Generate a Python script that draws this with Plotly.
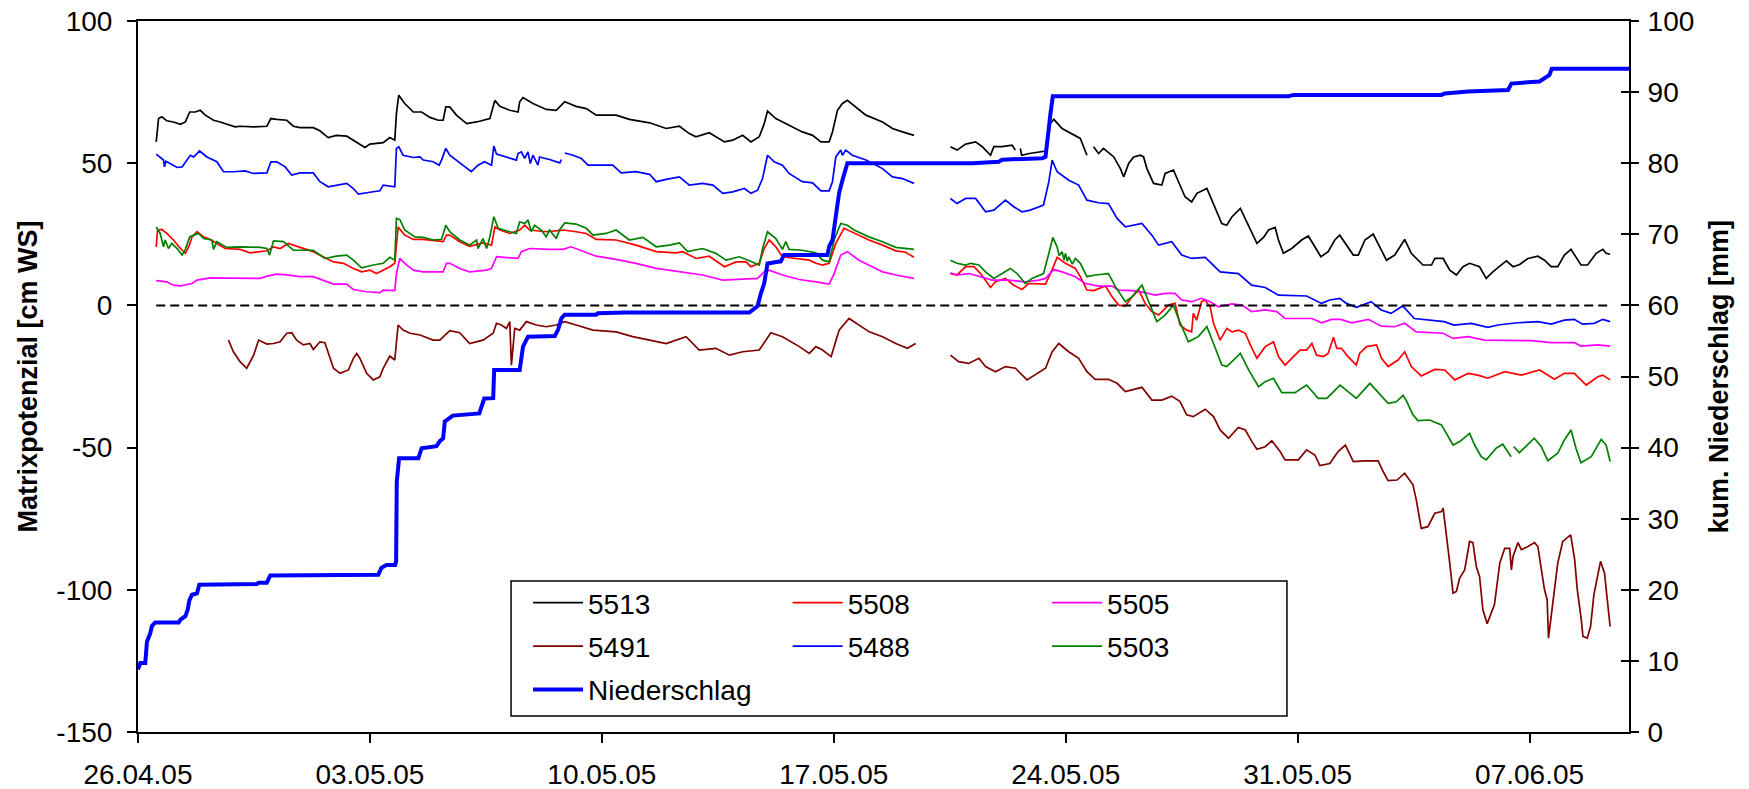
import plotly.graph_objects as go
from datetime import datetime, timedelta

BASE = datetime(2005, 4, 26)
FONT = "Liberation Sans, Arial, sans-serif"

# ---------------- data (day offset from 26.04.05, value) ----------------
s5513_day = [0.55, 0.62, 0.72, 0.87, 1.07, 1.28, 1.43, 1.56, 1.73, 1.88, 2.03, 2.28, 2.48, 2.73, 2.93, 3.08, 3.49, 3.89,
             4.01, 4.19, 4.49, 4.69, 4.89, 5.29, 5.49, 5.74, 5.99, 6.30, 6.50, 6.70, 6.85, 7.00, 7.40, 7.60, 7.75, 7.80,
             7.87, 8.05, 8.31, 8.56, 8.81, 9.06, 9.21, 9.29, 9.41, 9.61, 9.92, 10.22, 10.62, 10.77, 10.92, 11.22, 11.47,
             11.52, 11.62, 11.92, 12.32, 12.62, 12.88, 13.22, 13.53, 13.83, 14.43, 14.83, 15.44, 15.94, 16.34, 16.64,
             16.84, 17.24, 17.44, 17.70, 17.95, 18.25, 18.50, 18.75, 18.90, 19.00, 19.25, 19.65, 20.05, 20.36, 20.61,
             20.86, 20.96, 21.11, 21.26, 21.41, 21.66, 21.97, 22.47, 22.77, 23.07, 23.42, None,
             24.52, 24.72, 24.98, 25.28, 25.48, 25.73, 25.83, 26.08, 26.38, 26.48, None, 26.63, 26.67, 26.90, 27.19,
             27.39, 27.49, 27.64, 27.89, 28.19, 28.44, 28.64, None, 28.84, 28.99, 29.14, 29.34, 29.45, 29.65, 29.75,
             29.90, 30.05, 30.25, 30.35, 30.45, 30.65, 30.90, 31.00, 31.25, 31.40, 31.60, 31.80, 31.96, 32.26, 32.46,
             32.71, 32.86, 33.02, 33.27, 33.47, 33.77, 33.97, 34.12, 34.32, 34.42, 34.57, 34.82, 35.12, 35.32, 35.52,
             35.70, 35.92, 36.12, 36.27, 36.52, 36.68, 36.83, 37.03, 37.28, 37.48, 37.68, 37.93, 38.23, 38.43, 38.78,
             39.04, 39.14, 39.39, 39.59, 39.79, 39.99, 40.19, 40.49, 40.69, 40.89, 41.10, 41.30, 41.50, 41.70, 41.95,
             42.25, 42.45, 42.65, 42.85, 43.05, 43.25, 43.40, 43.55, 43.75, 44.01, 44.21, 44.31, 44.43]
s5513_val = [57.5, 65.7, 66.3, 64.9, 64.5, 63.7, 64.5, 68.0, 68.0, 68.6, 66.9, 65.1, 64.5, 63.4, 62.8, 63.0, 62.8, 63.0,
             65.7, 65.4, 65.1, 63.0, 62.5, 62.5, 61.4, 59.0, 59.8, 59.5, 58.1, 56.7, 55.5, 56.7, 57.2, 59.0, 58.1, 67.5,
             73.9, 71.0, 68.0, 68.0, 66.1, 65.1, 65.1, 69.8, 69.8, 66.9, 63.9, 64.5, 65.7, 72.1, 70.0, 68.6, 68.0,
             71.6, 73.1, 71.0, 68.9, 68.6, 71.6, 70.0, 69.2, 66.9, 66.9, 65.4, 64.2, 62.2, 63.0, 60.4,
             59.3, 60.7, 59.3, 57.5, 58.1, 59.8, 57.5, 59.3, 63.9, 68.3, 65.7, 63.4, 61.0, 59.8, 57.5,
             57.5, 61.0, 68.6, 71.0, 72.1, 69.8, 66.9, 64.5, 62.2, 61.0, 59.8, None,
             55.8, 54.6, 56.7, 57.5, 55.8, 52.8, 55.8, 55.8, 56.3, 54.6, None, 55.2, 52.8, 53.4, 54.0,
             54.3, 63.4, 65.4, 62.2, 60.4, 58.7, 52.8, None, 55.8, 53.4, 55.2, 53.4, 52.2, 48.1, 45.2,
             49.9, 52.2, 52.8, 52.2, 48.1, 42.9, 42.3, 46.4, 47.6, 43.5, 38.2, 36.4, 39.4, 41.1, 35.8,
             28.8, 28.2, 31.2, 34.1, 29.4, 21.8, 23.9, 26.5, 27.4, 23.0, 18.3, 20.0, 23.0, 24.4, 20.6,
             17.1, 18.9, 23.0, 24.7, 20.6, 17.7, 17.7, 23.0, 25.1, 20.6, 15.9, 17.7, 23.2, 18.3, 14.2,
             14.2, 16.5, 16.5, 12.4, 10.7, 13.6, 14.8, 13.6, 9.5, 11.8, 13.8, 15.7, 13.6, 14.4, 16.5,
             17.3, 15.9, 13.6, 13.6, 17.7, 19.7, 17.1, 14.2, 14.2, 18.3, 19.7, 18.3, 18.0]

s5508_day = [0.55, 0.59, 0.72, 0.87, 1.07, 1.28, 1.43, 1.55, 1.63, 1.78, 1.98, 2.18, 2.38, 2.63, 3.08, 3.38, 3.89, 4.09,
             4.29, 4.54, 4.89, 5.29, 5.59, 5.90, 6.20, 6.50, 6.75, 7.00, 7.20, 7.40, 7.60, 7.75, 7.85, 8.05, 8.31, 8.61,
             8.91, 9.21, 9.31, 9.41, 9.71, 10.01, 10.41, 10.67, 10.77, 10.92, 11.22, 11.52, 11.67, 11.82, 12.32, 12.83,
             13.22, 13.53, 13.83, 14.43, 15.03, 15.64, 16.24, 16.44, 16.84, 17.24, 17.70, 18.05, 18.35, 18.50, 18.75,
             18.90, 19.05, 19.25, 19.45, 19.85, 20.26, 20.46, 20.66, 20.86, 21.06, 21.31, 21.66, 22.06, 22.47, 22.87,
             23.17, 23.42, None,
             24.52, 24.72, 24.98, 25.23, 25.43, 25.73, 25.88, 26.18, 26.43, 26.68, 26.88, 27.39, 27.59, 27.74, 27.99,
             28.29, 28.44, 28.64, 28.84, 29.20, 29.40, 29.60, 29.80, 30.00, 30.20, 30.40, 30.60, 30.80, 31.10, 31.30,
             31.45, 31.65, 31.80, 31.85, 31.95, 32.10, 32.20, 32.36, 32.46, 32.66, 32.86, 33.02, 33.22, 33.42, 33.57,
             33.77, 34.02, 34.27, 34.42, 34.62, 34.82, 35.07, 35.27, 35.43, 35.57, 35.77, 35.92, 36.08, 36.18, 36.32,
             36.52, 36.77, 36.87, 37.08, 37.38, 37.53, 37.73, 38.03, 38.23, 38.43, 38.73, 39.14, 39.44, 39.74, 40.14,
             40.44, 40.74, 41.25, 41.75, 42.30, 42.75, 43.05, 43.35, 43.71, 44.06, 44.21, 44.43]
s5508_val = [20.6, 26.5, 26.7, 25.3, 23.0, 20.0, 18.3, 21.2, 24.1, 25.9, 24.1, 23.2, 21.8, 20.0, 19.7, 18.5, 19.2, 20.6,
             20.0, 21.8, 20.4, 18.9, 17.1, 15.3, 14.8, 13.0, 11.8, 12.4, 11.2, 12.4, 13.6, 14.8, 27.6, 24.7, 23.2, 23.2,
             22.7, 22.4, 24.7, 24.7, 22.4, 20.8, 22.0, 21.2, 27.6, 26.5, 25.3, 26.5, 28.2, 26.5, 25.9, 26.5,
             25.9, 25.3, 23.2, 23.0, 21.2, 18.9, 18.5, 18.9, 16.5, 17.3, 13.6, 15.3, 15.3, 13.6, 14.8,
             20.0, 23.0, 20.6, 17.1, 16.5, 15.9, 14.8, 14.2, 14.8, 21.8, 27.1, 25.3, 23.0, 21.2, 19.2,
             18.7, 16.9, None,
             11.2, 10.7, 13.6, 13.6, 11.2, 6.3, 8.3, 9.5, 7.1, 5.6, 7.7, 7.5, 12.6, 16.9, 14.8,
             13.0, 10.1, 5.4, 5.2, 6.8, 3.0, 0.1, -0.2, 3.0, 5.4, 0.7, -2.2, -3.4, 0.1, 0.7,
             -6.9, -8.7, -9.3, -2.8, -5.2, 1.3, 1.9, -0.5, -6.3, -12.2, -8.1, -9.3, -8.7, -9.8, -13.9,
             -18.6, -14.5, -12.8, -18.0, -21.0, -18.6, -15.7, -15.7, -13.4, -17.5, -18.0, -16.9, -11.2, -15.1, -15.1,
             -18.0, -21.0, -16.9, -14.5, -13.9, -18.6, -21.5, -19.2, -16.3, -21.5, -24.8, -22.5, -22.7, -26.2, -23.9,
             -24.5, -25.6, -23.3, -24.5, -22.7, -26.0, -23.9, -23.9, -28.0, -25.1, -24.5, -26.2]

s5505_day = [0.55, 0.87, 1.07, 1.28, 1.63, 1.78, 2.18, 2.88, 3.69, 3.89, 4.19, 4.49, 4.89, 5.29, 5.59, 5.90, 6.30, 6.50,
             6.90, 7.30, 7.40, 7.75, 7.80, 7.90, 8.05, 8.31, 8.61, 9.21, 9.31, 9.41, 9.71, 10.01, 10.52, 10.67, 10.82,
             11.47, 11.57, 11.82, 12.42, 12.83, 13.07, 13.42, 13.83, 14.43, 15.03, 15.64, 16.44, 17.04, 17.65, 18.25,
             18.70, 18.90, 19.05, 19.45, 19.96, 20.46, 20.86, 21.01, 21.21, 21.41, 21.76, 22.16, 22.47, 22.87, 23.42,
             None,
             24.52, 24.72, 25.08, 25.48, 25.78, 26.28, 26.78, 27.19, 27.39, 27.64, 27.89, 28.29, 28.59, 28.99, 29.40,
             29.60, 30.00, 30.40, 30.70, 31.00, 31.30, 31.50, 31.80, 32.10, 32.36, 32.61, 33.02, 33.32, 33.61, 34.02,
             34.37, 34.62, 35.12, 35.43, 35.72, 36.02, 36.30, 36.63, 37.13, 37.53, 37.93, 38.23, 38.58, 39.02, 39.39,
             39.69, 40.14, 40.64, 41.55, 42.05, 42.65, 43.35, 43.55, 44.06, 44.43]
s5505_val = [8.7, 8.3, 7.1, 6.9, 7.7, 8.9, 9.7, 9.5, 9.5, 10.3, 11.0, 10.7, 10.1, 10.1, 8.7, 7.5, 7.5, 5.6,
             4.8, 4.5, 5.4, 5.2, 11.2, 16.5, 14.8, 12.4, 11.8, 11.8, 14.8, 14.8, 13.0, 11.8, 12.4, 13.0, 17.1,
             16.5, 18.9, 20.0, 19.7, 19.7, 20.6, 19.2, 17.3, 16.2, 14.8, 13.0, 11.8, 10.7, 8.9, 9.1,
             9.5, 11.8, 12.4, 10.7, 9.1, 8.3, 7.5, 11.2, 17.7, 18.9, 15.9, 13.6, 11.8, 10.7, 9.5,
             None,
             11.5, 10.7, 11.2, 9.8, 8.9, 8.9, 8.3, 8.9, 9.5, 12.6, 11.8, 10.1, 7.7, 6.8, 6.8,
             5.4, 5.2, 4.5, 3.6, 4.2, 4.2, 1.9, 1.3, 2.5, 1.3, -0.5, 0.5, 0.1, -2.2, -1.6,
             -2.2, -4.6, -4.6, -4.6, -6.1, -4.9, -4.9, -6.1, -4.9, -7.3, -7.5, -6.3, -9.3, -9.6, -9.8,
             -11.6, -11.0, -12.2, -12.2, -12.4, -13.1, -13.1, -14.3, -13.9, -14.3]

s5491_day = [2.73, 2.88, 3.08, 3.28, 3.49, 3.64, 3.89, 4.09, 4.29, 4.49, 4.64, 4.79, 4.99, 5.19, 5.29, 5.49, 5.64, 5.74,
             5.90, 6.10, 6.35, 6.50, 6.60, 6.70, 6.90, 7.10, 7.30, 7.40, 7.55, 7.60, 7.75, 7.85, 8.00, 8.21, 8.51, 8.91,
             9.11, 9.31, 9.41, 9.71, 10.01, 10.41, 10.72, 10.82, 10.97, 11.12, 11.22, 11.27, 11.37, 11.52, 11.72, 12.02,
             12.32, 12.62, 12.88, 13.22, 13.73, 14.43, 14.93, 15.44, 15.94, 16.54, 16.94, 17.44, 17.85, 18.25, 18.75,
             19.10, 19.45, 19.96, 20.26, 20.46, 20.66, 20.92, 21.16, 21.46, 21.76, 22.07, 22.47, 22.87, 23.22, 23.47,
             None,
             24.52, 24.77, 25.07, 25.38, 25.58, 25.88, 26.18, 26.48, 26.83, 27.08, 27.39, 27.59, 27.79, 28.09, 28.39,
             28.64, 28.89, 29.29, 29.55, 29.80, 30.30, 30.60, 30.90, 31.20, 31.45, 31.65, 31.85, 32.21, 32.46, 32.66,
             32.91, 33.21, 33.42, 33.62, 33.77, 34.02, 34.22, 34.47, 34.62, 35.02, 35.27, 35.52, 35.67, 35.97, 36.22,
             36.44, 36.68, 37.03, 37.43, 37.58, 37.73, 38.00, 38.23, 38.48, 38.58, 38.73, 38.93, 39.14, 39.34, 39.39,
             39.49, 39.59, 39.69, 39.79, 39.89, 40.04, 40.19, 40.29, 40.39, 40.49, 40.59, 40.72, 40.94, 41.10, 41.25,
             41.40, 41.45, 41.50, 41.65, 41.75, 41.95, 42.15, 42.25, 42.35, 42.45, 42.53, 42.57, 42.70, 42.85, 43.00,
             43.24, 43.36, 43.44, 43.56, 43.61, 43.74, 43.84, 43.94, 44.04, 44.14, 44.26, 44.34, 44.43]
s5491_val = [-12.2, -16.3, -19.8, -22.1, -17.5, -12.2, -13.6, -13.4, -12.8, -9.8, -9.6, -12.2, -13.9, -13.4, -15.5, -12.8,
             -13.1, -16.9, -22.1, -23.9, -22.7, -18.6, -16.9, -18.6, -23.9, -26.2, -25.1, -22.1, -19.2, -17.8, -19.2,
             -6.9, -8.7, -9.8, -10.4, -12.2, -12.2, -9.8, -8.9, -9.6, -13.4, -12.2, -9.8, -6.3, -6.9, -8.1, -5.7, -21.0,
             -8.1, -8.7, -5.7, -6.9, -7.5, -6.9, -5.7, -6.9, -8.7, -9.3, -11.0, -12.2, -13.4, -11.0, -15.7, -15.1,
             -17.5, -16.3, -15.7, -9.6, -11.0, -14.5, -16.9, -14.5, -15.7, -18.0, -8.7, -4.6, -6.9, -9.3, -11.0,
             -13.4, -15.1, -13.4,
             None,
             -17.5, -19.8, -20.4, -18.6, -21.5, -23.3, -21.5, -22.1, -26.2, -24.5, -22.1, -16.3, -13.4, -16.3, -18.6,
             -23.3, -26.0, -26.0, -27.4, -30.3, -28.8, -33.3, -33.3, -31.9, -33.8, -38.5, -39.1, -36.5, -39.1, -43.8,
             -46.7, -42.9, -43.8, -47.9, -50.6, -49.7, -47.6, -51.4, -54.3, -54.3, -50.8, -52.6, -56.3, -55.6, -51.4,
             -49.1, -54.9, -54.7, -54.7, -58.4, -61.6, -61.4, -59.0, -63.1, -68.4, -78.4, -77.8, -73.1, -72.5, -71.3,
             -80.1, -90.6, -101.2, -100.6, -95.9, -93.0, -83.0, -83.4, -91.8, -95.3, -107.0, -111.9, -105.2, -90.6,
             -85.4, -85.4, -93.0, -88.3, -83.4, -85.9, -84.8, -83.4, -84.8, -93.0, -100.0, -103.5, -117.0, -104.7,
             -90.6, -83.0, -80.7, -89.4, -100.0, -110.5, -116.4, -117.0, -112.9, -101.8, -95.9, -90.0, -94.1, -102.4,
             -112.9]

s5488_day = [0.55, 0.67, 0.77, 0.80, 0.84, 0.97, 1.18, 1.33, 1.48, 1.58, 1.68, 1.86, 2.08, 2.38, 2.58, 2.88, 3.23, 3.49,
             3.89, 4.01, 4.19, 4.44, 4.64, 4.89, 5.29, 5.49, 5.74, 6.30, 6.50, 6.65, 6.90, 7.30, 7.40, 7.75, 7.80, 7.87,
             8.00, 8.31, 8.51, 8.61, 8.91, 9.09, 9.16, 9.29, 9.41, 9.61, 9.86, 10.06, 10.26, 10.46, 10.67, 10.74, 10.82,
             11.12, 11.42, 11.47, 11.57, 11.67, 11.77, 11.84, 11.92, 12.07, 12.12, 12.42, 12.73, 12.78, None, 12.88,
             13.13, 13.38, 13.58, 13.83, 14.33, 14.58, 15.03, 15.44, 15.64, 15.94, 16.34, 16.64, 17.04, 17.35, 17.65,
             17.95, 18.30, 18.50, 18.70, 18.85, 19.00, 19.20, 19.45, 19.65, 20.05, 20.36, 20.61, 20.86, 20.96, 21.06,
             21.21, 21.26, 21.36, 21.56, 21.97, 22.47, 22.77, 23.07, 23.42, None,
             24.52, 24.72, 24.98, 25.28, 25.43, 25.58, 25.83, 26.18, 26.43, 26.68, 26.93, 27.33, 27.49, 27.59, 27.74,
             28.09, 28.39, 28.64, 28.99, 29.29, 29.55, 29.80, 30.30, 30.60, 30.80, 31.20, 31.50, 31.80, 32.21, 32.66,
             33.21, 33.61, 34.02, 34.42, 35.27, 35.72, 35.97, 36.27, 36.47, 36.77, 37.22, 37.52, 37.82, 38.17, 38.52,
             39.02, 39.42, 39.72, 40.24, 40.74, 41.04, 41.64, 42.25, 42.65, 43.05, 43.35, 43.60, 43.95, 44.21, 44.43]
s5488_val = [53.2, 52.2, 51.1, 48.7, 50.7, 49.9, 48.5, 48.7, 51.1, 52.8, 52.2, 54.3, 52.2, 50.5, 47.0, 47.0, 47.3, 46.4,
             46.6, 50.5, 50.5, 48.7, 45.8, 46.6, 46.6, 43.5, 41.7, 42.9, 41.1, 39.1, 39.6, 40.3, 42.3, 41.7, 55.2, 55.8,
             52.8, 52.0, 52.2, 51.1, 50.5, 49.3, 51.1, 55.2, 52.8, 51.1, 48.7, 47.0, 49.3, 50.5, 49.3, 56.0, 53.2,
             52.2, 51.1, 53.4, 54.0, 51.7, 54.0, 49.9, 52.8, 49.3, 52.2, 51.3, 50.1, 51.3, None, 53.6,
             52.8, 51.7, 49.3, 49.3, 49.3, 46.6, 47.0, 46.1, 43.5, 44.3, 45.2, 42.3, 42.9, 42.3, 39.4,
             39.9, 41.1, 39.4, 40.5, 44.6, 52.8, 50.5, 49.3, 46.4, 43.5, 43.1, 40.3, 40.3, 43.5, 52.2,
             54.6, 52.8, 54.6, 52.8, 51.1, 48.1, 45.2, 44.6, 42.9, None,
             37.6, 35.8, 37.6, 37.6, 35.3, 32.9, 33.5, 37.0, 34.7, 32.9, 33.5, 35.3, 43.5, 51.1, 47.0,
             44.0, 42.3, 37.0, 36.1, 35.8, 30.6, 27.6, 28.8, 24.7, 21.2, 22.4, 17.7, 16.5, 16.9, 11.8,
             11.2, 7.1, 6.3, 3.6, 3.3, 0.7, 1.9, 2.5, 0.7, -0.7, 1.3, -1.6, -2.8, -0.2, -4.6,
             -5.2, -5.7, -6.9, -6.3, -7.7, -6.9, -6.1, -5.7, -6.6, -5.2, -4.9, -6.6, -6.3, -4.9, -5.7]

s5503_day = [0.55, 0.67, 0.77, 0.82, 0.92, 1.02, 1.18, 1.33, 1.43, 1.56, 1.68, 1.83, 1.98, 2.23, 2.28, 2.38, 2.68, 3.08,
             3.69, 3.89, 3.97, 4.09, 4.39, 4.69, 5.29, 5.64, 5.99, 6.30, 6.50, 6.75, 7.10, 7.40, 7.60, 7.75, 7.80, 7.90,
             8.05, 8.36, 8.61, 8.91, 9.16, 9.29, 9.41, 9.71, 10.01, 10.22, 10.26, 10.41, 10.52, 10.62, 10.74, 10.87,
             11.22, 11.42, 11.52, 11.67, 11.77, 11.87, 11.97, 12.17, 12.32, 12.42, 12.62, 12.73, 12.88, 13.22, 13.53,
             13.73, 14.13, 14.43, 14.83, 15.24, 15.64, 16.04, 16.34, 16.59, 17.04, 17.44, 17.75, 18.15, 18.45, 18.75,
             18.85, 19.00, 19.25, 19.45, 19.55, 19.65, 20.05, 20.46, 20.66, 20.86, 21.01, 21.21, 21.41, 21.61, 22.06,
             22.47, 22.87, 23.42, None,
             24.52, 24.72, 24.98, 25.13, 25.38, 25.58, 25.83, 26.08, 26.33, 26.53, 26.78, 26.98, 27.33, 27.49, 27.61,
             27.74, 27.80, 27.89, 27.95, 27.99, 28.05, 28.09, 28.20, 28.29, 28.44, 28.64, 28.89, 29.29, 29.50, 29.80,
             30.00, 30.30, 30.50, 30.75, 31.00, 31.25, 31.40, 31.70, 32.00, 32.26, 32.46, 32.71, 32.86, 33.02, 33.27,
             33.52, 33.82, 34.02, 34.27, 34.52, 34.92, 35.27, 35.62, 35.88, 36.28, 36.52, 36.77, 37.18, 37.53, 37.73,
             37.98, 38.18, 38.28, 38.48, 38.63, 38.98, 39.34, 39.49, 39.69, 39.89, 40.19, 40.34, 40.54, 40.69, 40.99,
             41.19, 41.34, 41.44, None, 41.52, 41.69, 41.89, 42.14, 42.35, 42.55, 42.85, 43.05, 43.25, 43.40, 43.55,
             43.86, 44.16, 44.31, 44.43]
s5503_val = [27.6, 25.3, 20.6, 23.0, 20.0, 21.8, 20.0, 17.7, 19.7, 24.1, 24.7, 25.3, 23.5, 23.0, 19.7, 22.4, 20.4, 20.6,
             20.4, 20.0, 17.7, 22.7, 22.4, 19.4, 19.4, 16.5, 17.3, 17.7, 15.9, 13.2, 14.2, 14.8, 16.9, 15.9, 30.6, 30.2,
             26.5, 24.1, 23.9, 23.0, 23.2, 28.2, 25.9, 23.0, 21.2, 23.0, 20.0, 23.5, 20.0, 24.1, 31.2, 27.1,
             25.9, 25.3, 29.4, 28.8, 30.0, 25.9, 28.2, 26.5, 24.1, 26.5, 23.5, 26.7, 29.0, 28.6, 27.1,
             24.7, 25.3, 26.5, 23.0, 23.9, 20.6, 21.2, 22.0, 18.9, 20.0, 18.3, 15.9, 17.1, 15.7, 14.2,
             20.0, 25.9, 23.5, 19.7, 22.4, 19.7, 19.4, 18.5, 15.9, 15.3, 23.0, 28.8, 28.2, 26.5, 24.1,
             22.4, 20.4, 19.7, None,
             15.9, 14.8, 14.2, 14.8, 14.2, 11.8, 9.5, 11.2, 13.0, 11.2, 7.7, 9.5, 11.2, 18.3, 23.9,
             20.6, 17.5, 18.9, 15.9, 18.3, 15.5, 17.1, 14.5, 16.5, 14.8, 10.1, 10.7, 11.2, 6.6, 1.3,
             3.0, 7.1, 1.3, -5.7, -3.4, 0.1, -4.6, -12.8, -11.0, -7.5, -13.4, -21.0, -21.5, -19.8, -16.9,
             -22.7, -28.6, -26.8, -25.6, -30.7, -30.7, -28.0, -32.7, -32.7, -28.0, -30.3, -32.7, -27.4, -32.1, -34.4,
             -33.9, -31.6, -33.5, -38.5, -40.5, -40.3, -42.0, -45.0, -49.1, -47.9, -45.0, -49.1, -53.2, -54.3, -50.2,
             -48.8, -51.4, -53.2, None, -49.6, -51.8, -49.6, -46.7, -49.6, -54.6, -52.0, -47.3, -43.8, -50.2, -55.3,
             -53.2, -47.1, -49.1, -54.9]

zero_day = [0.55, 44.43]
zero_val = [0, 0]

rain_day = [0.00, 0.07, 0.22, 0.24, 0.27, 0.37, 0.42, 0.52, 1.23, 1.28, 1.43, 1.50, 1.55, 1.63, 1.78, 1.85, 3.59, 3.64,
            3.89, 3.99, 7.00, 7.25, 7.35, 7.50, 7.76, 7.79, 7.81, 7.88, 8.46, 8.56, 9.01, 9.11, 9.21, 9.23, 9.26, 9.36,
            9.50, 10.30, 10.45, 10.72, 10.75, 11.52, 11.57, 11.62, 11.77, 12.58, 12.68, 12.78, 12.88, 13.83, 13.88,
            14.73, 18.45, 18.55, 18.70, 18.80, 18.90, 19.00, 19.40, 19.50, 20.81, 20.86, 20.96, 21.06, 21.16, 21.26,
            21.36, 21.41, 25.18, 25.98, 26.08, 27.29, 27.39, 27.42, 27.47, 27.54, 27.61, 34.72, 34.87, 39.34, 39.44,
            40.14, 41.35, 41.45, 42.30, 42.45, 42.60, 42.67, 45.00]
rain_mm = [8.8, 9.7, 9.7, 11.1, 12.7, 13.9, 14.9, 15.4, 15.4, 15.8, 16.3, 17.2, 18.5, 19.3, 19.5, 20.7, 20.8, 21.0,
           21.0, 22.0, 22.0, 22.1, 23.1, 23.5, 23.5, 24.0, 35.2, 38.5, 38.5, 39.9, 40.2, 40.9, 41.3, 42.5, 43.7, 44.0,
           44.5, 44.8, 46.9, 46.95, 50.9, 50.9, 52.3, 54.2, 55.6, 55.7, 56.6, 58.2, 58.7, 58.7, 58.9,
           59.0, 59.0, 59.4, 59.9, 61.7, 63.1, 65.9, 66.2, 67.1, 67.1, 68.3, 69.2, 72.5, 75.8, 77.6,
           79.1, 80.0, 80.0, 80.2, 80.5, 80.7, 80.9, 82.3, 84.7, 87.0, 89.4, 89.4, 89.6, 89.6, 89.8,
           90.1, 90.3, 91.2, 91.5, 92.0, 92.4, 93.3, 93.3]

x_tick_step_days = 7
left_range = [-150, 100]
left_ticks = [-150, -100, -50, 0, 50, 100]
left_ticktext = ["-150", "-100", "-50", "0", "50", "100"]
right_range = [0, 100]


def to_dates(days):
    return [BASE + timedelta(days=d) if d is not None else None for d in days]


series = [
    ("5513", s5513_day, s5513_val, "#000000", "legend"),
    ("5508", s5508_day, s5508_val, "#FF0000", "legend2"),
    ("5505", s5505_day, s5505_val, "#FF00FF", "legend3"),
    ("5491", s5491_day, s5491_val, "#800000", "legend"),
    ("5488", s5488_day, s5488_val, "#0000FF", "legend2"),
    ("5503", s5503_day, s5503_val, "#008000", "legend3"),
]

fig = go.Figure()
for name, d, v, col, lg in series:
    fig.add_trace(go.Scatter(x=to_dates(d), y=v, mode="lines", name=name, legend=lg, legendgroup=name,
                             line=dict(color=col, width=1.7), connectgaps=False))

fig.add_trace(go.Scatter(x=to_dates(zero_day), y=zero_val, mode="lines", showlegend=False,
                         line=dict(color="black", width=2, dash="9px,5px")))

fig.add_trace(go.Scatter(x=to_dates(rain_day), y=rain_mm, mode="lines", name="Niederschlag", legend="legend",
                         legendgroup="Niederschlag", yaxis="y2", line=dict(color="#0000FF", width=4)))

fig.add_trace(go.Scatter(x=[None], y=[None], yaxis="y3", showlegend=False, hoverinfo="skip"))

axis_common = dict(showgrid=False, zeroline=False, showline=True, linecolor="black", linewidth=2,
                   tickcolor="black", tickwidth=1.5, automargin=False, ticklabeloverflow="allow",
                   tickfont=dict(family=FONT, size=28, color="black"))

legend_common = dict(xanchor="left", yanchor="top", bgcolor="rgba(0,0,0,0)", borderwidth=0,
                     font=dict(family=FONT, size=28, color="black"), tracegroupgap=4, itemwidth=50,
                     orientation="v")

LEG_Y = 0.2166

fig.update_layout(
    template="none",
    width=1749, height=789,
    margin=dict(l=138, r=120, t=21, b=57, autoexpand=False),
    paper_bgcolor="white", plot_bgcolor="white",
    hovermode=False,
    font=dict(family=FONT, size=28, color="black"),
    xaxis=dict(type="date", range=[BASE, BASE + timedelta(days=45)], tick0=BASE,
               dtick=x_tick_step_days * 86400000, tickformat="%d.%m.%y", ticks="outside", ticklen=9,
               ticklabelstandoff=7, mirror=True, **axis_common),
    yaxis=dict(range=left_range, tickmode="array", tickvals=left_ticks, ticktext=left_ticktext,
               ticks="outside", ticklen=9, ticklabelstandoff=9, **axis_common),
    yaxis2=dict(range=right_range, dtick=10, tick0=0, overlaying="y", side="right", ticks="outside",
                ticklen=8, ticklabelstandoff=3, **axis_common),
    yaxis3=dict(range=right_range, dtick=10, tick0=0, overlaying="y", side="right", ticks="inside",
                ticklen=8, showticklabels=False, showline=False, showgrid=False, zeroline=False,
                tickcolor="black", tickwidth=1.5, automargin=False),
    legend=dict(x=0.2616, y=LEG_Y, **legend_common),
    legend2=dict(x=0.4357, y=LEG_Y, **legend_common),
    legend3=dict(x=0.6097, y=LEG_Y, **legend_common),
    shapes=[dict(type="rect", xref="paper", yref="paper", x0=0.2502, x1=0.7706, y0=0.0225, y1=0.2124,
                 line=dict(color="black", width=1.5), fillcolor="white", layer="below")],
    annotations=[
        dict(text="Matrixpotenzial [cm WS]", xref="paper", yref="paper", x=-0.0738, y=0.5, textangle=-90,
             showarrow=False, xanchor="center", yanchor="middle",
             font=dict(family=FONT, size=27, color="black", weight="bold")),
        dict(text="kum. Niederschlag [mm]", xref="paper", yref="paper", x=1.0597, y=0.5, textangle=-90,
             showarrow=False, xanchor="center", yanchor="middle",
             font=dict(family=FONT, size=27, color="black", weight="bold")),
    ],
    showlegend=True,
)

# remove the browser's default 8px body margin so the figure sits at the page origin;
# hide the interactive mode bar so it does not appear in the picture
fig.write_html("out.html", config={"displayModeBar": False},
               post_script="document.body.style.margin='0px';")
